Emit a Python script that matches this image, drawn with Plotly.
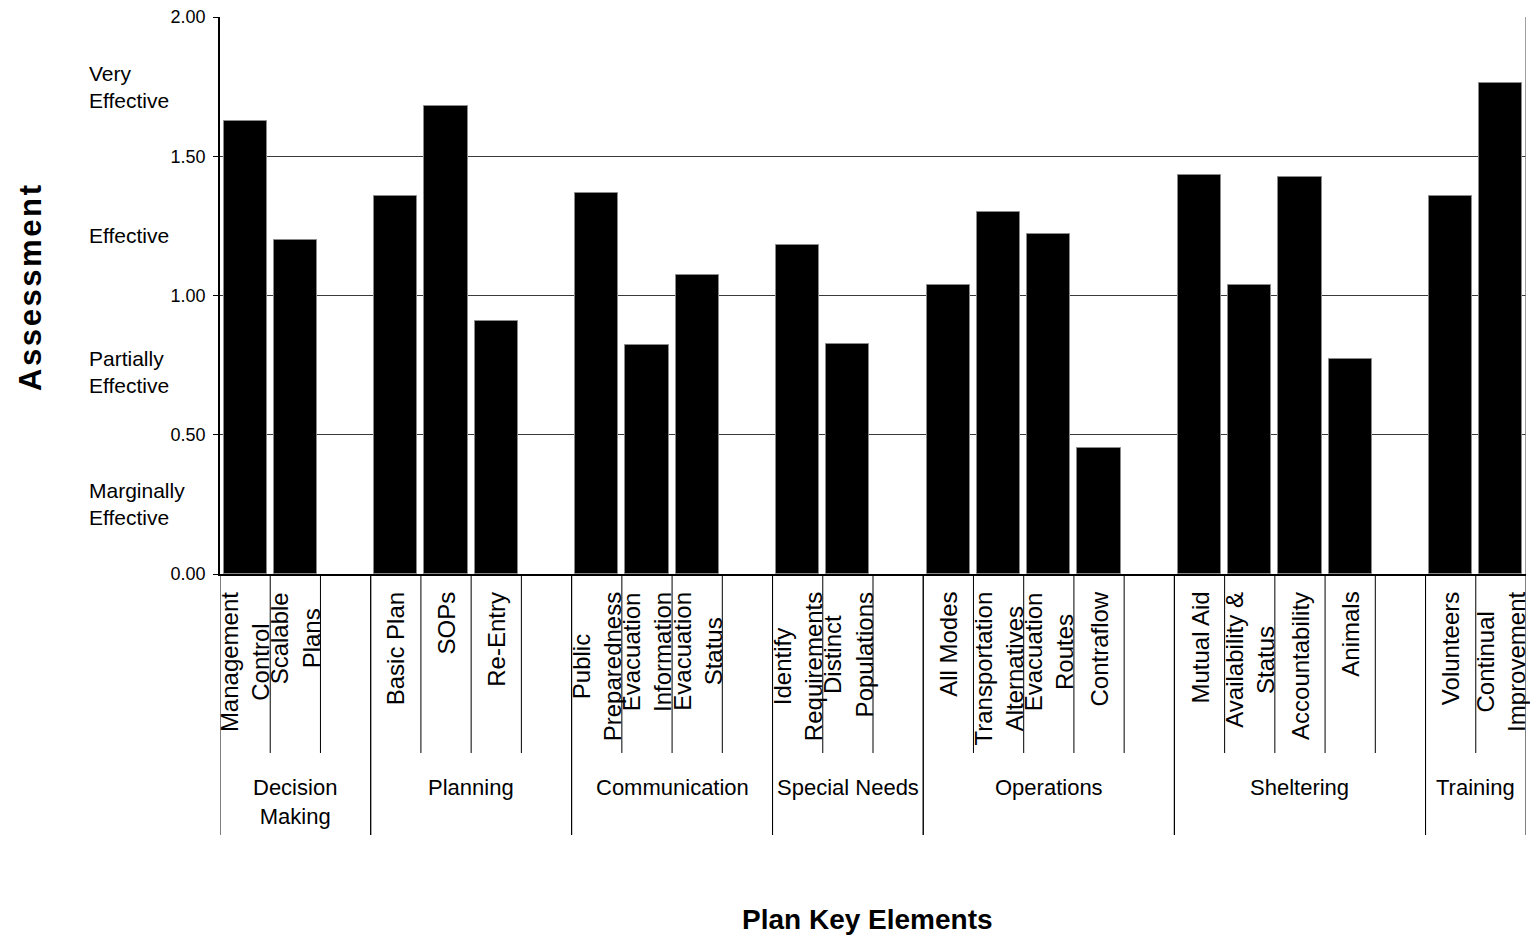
import plotly.graph_objects as go

# ---------------- data ----------------
groups = ["Decision<br>Making", "Planning", "Communication", "Special Needs",
          "Operations", "Sheltering", "Training"]
elements = ["Management<br>Control", "Scalable<br>Plans",
            "Basic Plan", "SOPs", "Re-Entry",
            "Public<br>Preparedness", "Evacuation<br>Information", "Evacuation<br>Status",
            "Identify<br>Requirements", "Distinct<br>Populations",
            "All Modes", "Transportation<br>Alternatives", "Evacuation<br>Routes", "Contraflow",
            "Mutual Aid", "Availability &<br>Status", "Accountability", "Animals",
            "Volunteers", "Continual<br>Improvement"]
element_group = [0, 0, 1, 1, 1, 2, 2, 2, 3, 3, 4, 4, 4, 4, 5, 5, 5, 5, 6, 6]
values = [1.625, 1.198, 1.356, 1.681, 0.910, 1.368, 0.822, 1.074, 1.180, 0.827,
          1.038, 1.300, 1.221, 0.452, 1.431, 1.038, 1.425, 0.771, 1.357, 1.762]
y_ticks = [0.0, 0.5, 1.0, 1.5, 2.0]
rating_labels = ["Very<br>Effective", "Effective", "Partially<br>Effective", "Marginally<br>Effective"]
rating_levels = [1.75, 1.215, 0.725, 0.25]

# ---------------- layout geometry ----------------
W, H = 1530, 940
ML, MR, MT, MB = 220, 4, 17, 366
plot_h = H - MT - MB

def py2paper(py):
    return (H - MB - py) / plot_h

def px2paper(px):
    return (px - ML) / (W - ML - MR)

# slot positions: each group followed by a blank slot (except last)
x_pos = []
group_spans = []
slot = 0
for g in range(len(groups)):
    start = slot
    for i, eg in enumerate(element_group):
        if eg == g:
            x_pos.append(slot + 0.5)
            slot += 1
    if g < len(groups) - 1:
        slot += 1
    group_spans.append((start, slot))
n_slots = slot

FONT = "Liberation Sans, Arial, sans-serif"

fig = go.Figure()
fig.add_trace(go.Bar(
    x=x_pos, y=values, width=0.86,
    marker=dict(color="black", line=dict(color="#8a8a8a", width=1)),
    hoverinfo="y", showlegend=False,
))

shapes = []
annotations = []

# separators below the axis
inner_bottom = py2paper(753)
group_bottom = py2paper(835)
for (s, e) in group_spans:
    for k in range(s + 1, e):
        shapes.append(dict(type="line", xref="x", yref="paper", x0=k, x1=k,
                           y0=0, y1=inner_bottom, line=dict(color="black", width=1)))
    for k in (s, e):
        shapes.append(dict(type="line", xref="x", yref="paper", x0=k, x1=k,
                           y0=0, y1=group_bottom, line=dict(color="black", width=1)))
# right border of plot area
shapes.append(dict(type="line", xref="x", yref="paper", x0=n_slots, x1=n_slots,
                   y0=0, y1=1, line=dict(color="#808080", width=1.5)))

# element labels (rotated)
for x, lab in zip(x_pos, elements):
    annotations.append(dict(x=x, xref="x", y=py2paper(590), yref="paper",
                            text=lab, textangle=-90, showarrow=False,
                            xanchor="center", yanchor="top", align="center",
                            font=dict(family=FONT, size=24, color="black")))
# group labels
for (s, e), g in zip(group_spans, groups):
    annotations.append(dict(x=(s + e) / 2, xref="x", y=py2paper(773), yref="paper",
                            text=g, showarrow=False, xanchor="center", yanchor="top",
                            align="center",
                            font=dict(family=FONT, size=22, color="black")))
# rating labels at left
for lab, lv in zip(rating_labels, rating_levels):
    annotations.append(dict(x=px2paper(87), xref="paper", y=lv, yref="y",
                            text=lab, showarrow=False, xanchor="left", yanchor="middle",
                            align="left",
                            font=dict(family=FONT, size=21, color="black")))
# axis titles
annotations.append(dict(x=px2paper(30), xref="paper", y=py2paper(288), yref="paper",
                        text="<b>" + "\u200a".join("Assessment") + "</b>",
                        textangle=-90, showarrow=False,
                        xanchor="center", yanchor="middle",
                        font=dict(family=FONT, size=31, color="black")))
annotations.append(dict(x=px2paper(867), xref="paper", y=py2paper(919), yref="paper",
                        text="<b>Plan Key Elements</b>", showarrow=False,
                        xanchor="center", yanchor="middle",
                        font=dict(family=FONT, size=28, color="black")))

fig.update_layout(
    width=W, height=H,
    margin=dict(l=ML, r=MR, t=MT, b=MB, pad=0),
    paper_bgcolor="white", plot_bgcolor="white",
    bargap=0,
    shapes=shapes, annotations=annotations,
    xaxis=dict(range=[0, n_slots], showticklabels=False, showgrid=False,
               zeroline=False, showline=True, linecolor="black", linewidth=1.5,
               ticks="", fixedrange=True),
    yaxis=dict(range=[0, 2], tickvals=y_ticks,
               ticktext=[f"{v:.2f}" for v in y_ticks],
               showgrid=True, gridcolor="#3a3a3a", gridwidth=1,
               zeroline=False, showline=True, linecolor="black", linewidth=1.5,
               ticks="outside", ticklen=5, tickcolor="black",
               ticklabelstandoff=4,
               tickfont=dict(family=FONT, size=18, color="black"),
               fixedrange=True),
)

fig.write_html("out.html")
